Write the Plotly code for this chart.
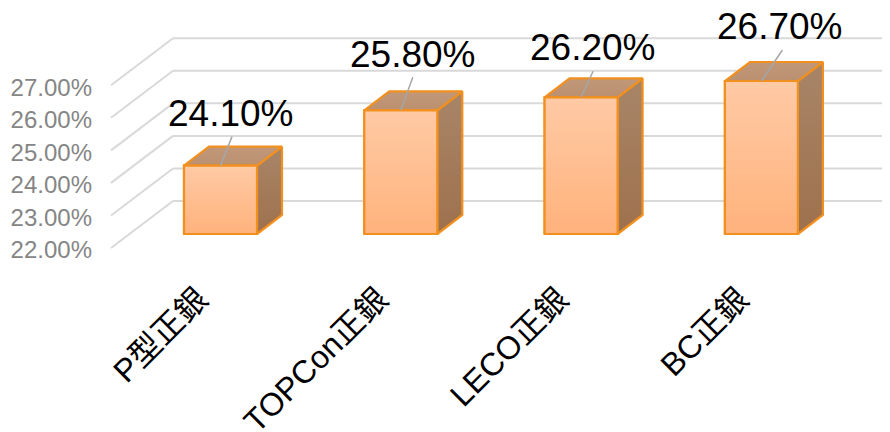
import plotly.graph_objects as go

categories = ["P型正銀", "TOPCon正銀", "LECO正銀", "BC正銀"]
values = [24.1, 25.8, 26.2, 26.7]
value_labels = ["24.10%", "25.80%", "26.20%", "26.70%"]
axis_ticks = [22, 23, 24, 25, 26, 27]
axis_tick_labels = ["22.00%", "23.00%", "24.00%", "25.00%", "26.00%", "27.00%"]

W, H = 882, 432       # page adds an 8 px body margin
PX_X = 180.3          # pixels per category
PX_Y = 32.55          # pixels per percentage point
X0_PX, Y0_PX = 212.5, 226.0
LEFT, BOTTOM = 92, 247
BAR_W = 73 / PX_X
DX, DY = 25 / PX_X, 19 / PX_Y   # bar depth in data units
ORANGE = "#F2901F"
FONT = "Liberation Sans, Arial, Noto Sans CJK TC, sans-serif"
BASE = axis_ticks[0]

fig = go.Figure()

# Real bars (front face)
fig.add_trace(go.Bar(
    x=list(range(len(values))), y=[v - BASE for v in values], base=BASE,
    width=BAR_W, marker=dict(color="#FFBD8E", line=dict(color=ORANGE, width=2.2)),
    hoverinfo="skip", showlegend=False))


def face(xs, ys, c_top, c_bottom):
    fig.add_trace(go.Scatter(
        x=xs, y=ys, mode="lines", fill="toself",
        fillgradient=dict(type="vertical", colorscale=[[0, c_bottom], [1, c_top]]),
        line=dict(color=ORANGE, width=2.2, shape="linear"),
        hoverinfo="skip", showlegend=False))


for i, v in enumerate(values):
    l, r = i - BAR_W / 2, i + BAR_W / 2
    # side
    face([r, r + DX, r + DX, r, r], [BASE, BASE + DY, v + DY, v, BASE], "#A88568", "#9E714D")
    # top
    face([l, r, r + DX, l + DX, l], [v, v, v + DY, v + DY, v], "#C09879", "#BA9070")
    # front gradient
    face([l, r, r, l, l], [BASE, BASE, v, v, BASE], "#FFCAA5", "#FFB27C")

# Leader lines and value labels
leader_px = [(11.5, -29), (12, -33), (12, -26), (21, -31)]
label_px = [(10.5, -52), (12, -56), (12, -50), (18.5, -55)]
for i, v in enumerate(values):
    lx, ly = leader_px[i]
    fig.add_trace(go.Scatter(
        x=[i, i + lx / PX_X], y=[v, v - ly / PX_Y], mode="lines",
        line=dict(color="#A6A6A6", width=1.5), hoverinfo="skip", showlegend=False))
    tx, ty = label_px[i]
    fig.add_annotation(x=i + tx / PX_X, y=v - ty / PX_Y, text=value_labels[i],
                       showarrow=False, xanchor="center", yanchor="middle",
                       font=dict(size=37, color="#000000", family=FONT))

# Floor and back wall grid
shapes = []
GRID = dict(color="#D9D9D9", width=2)
for t in axis_ticks:
    x_f, y_f = (103 - X0_PX) / PX_X, t - 14 / PX_Y
    x_b, y_b = (165 - X0_PX) / PX_X, t + 33 / PX_Y
    shapes.append(dict(type="line", layer="below", xref="x", yref="y",
                       x0=x_f, y0=y_f, x1=x_b, y1=y_b, line=GRID))
    shapes.append(dict(type="line", layer="below", xref="x", yref="y",
                       x0=x_b, y0=y_b, x1=(W - X0_PX) / PX_X, y1=y_b, line=GRID))

fig.update_layout(
    width=W, height=H, shapes=shapes,
    margin=dict(l=LEFT, r=0, t=0, b=H - BOTTOM, autoexpand=False),
    paper_bgcolor="white", plot_bgcolor="rgba(0,0,0,0)", showlegend=False,
    xaxis=dict(range=[(LEFT - X0_PX) / PX_X, (W - X0_PX) / PX_X], tickmode="array",
               tickvals=list(range(len(categories))), ticktext=categories,
               tickangle=-45, showgrid=False, zeroline=False, showline=False,
               ticks="", ticklabelstandoff=18, ticklabelshift=-22,
               tickfont=dict(size=32, color="#000000", family=FONT)),
    yaxis=dict(range=[BASE - (BOTTOM - Y0_PX) / PX_Y, BASE + Y0_PX / PX_Y], tickmode="array",
               tickvals=axis_ticks, ticktext=axis_tick_labels,
               showgrid=False, zeroline=False, showline=False, ticks="",
               ticklabelstandoff=7, ticklabelshift=16,
               tickfont=dict(size=24, color="#858585", family=FONT)),
)
fig.write_html("out.html", config=dict(displayModeBar=False))
